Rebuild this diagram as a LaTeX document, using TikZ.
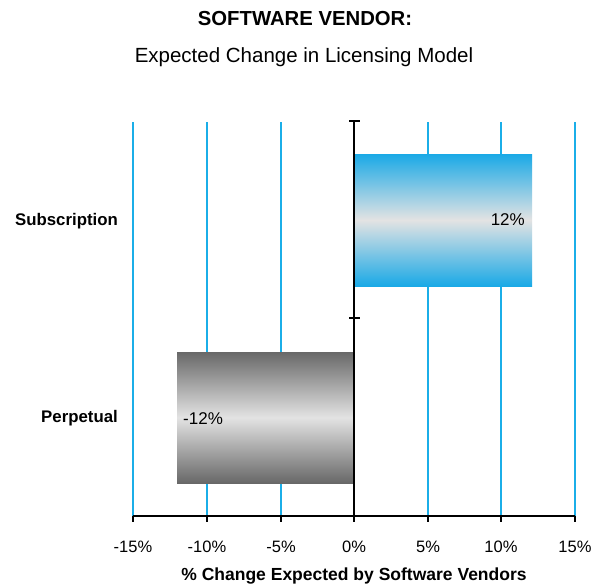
\documentclass[tikz,border=0pt]{standalone}
\usepackage{fontspec}
\setmainfont{Liberation Sans}
\definecolor{grid}{HTML}{1BAEE8}
\definecolor{barblue}{HTML}{1AA9E6}
\definecolor{bargray}{HTML}{686868}
\definecolor{barmid}{HTML}{E3E3E3}
\begin{document}
\begin{tikzpicture}[x=1pt,y=-1pt,
  gridline/.style={draw=grid,line width=1.8pt},
  axisline/.style={draw=black,line width=1.6pt},
  poshbar/.style={top color=barblue,bottom color=barblue,middle color=barmid,draw=none},
  neghbar/.style={top color=bargray,bottom color=bargray,middle color=barmid,draw=none},
  ticklabel/.style={font=\fontsize{16.5}{18}\selectfont,inner sep=0pt},
  catlabel/.style={font=\bfseries\fontsize{16.8}{18}\selectfont,inner sep=0pt,anchor=east},
  barlabel/.style={font=\fontsize{17}{18}\selectfont,inner sep=0pt}]
\useasboundingbox[fill=white] (0,0) rectangle (594,584);

% titles
\node[font=\bfseries\fontsize{20.3}{24}\selectfont,inner sep=0pt] (title) at (305,19) {SOFTWARE VENDOR:};
\node[font=\fontsize{20.5}{24}\selectfont,inner sep=0pt] (subtitle) at (304,57) {Expected Change in Licensing Model};

% vertical gridlines
\foreach \x in {133,207,281,428,501,575}
  \draw[gridline] (\x,122) -- (\x,516);

% bars
\fill[poshbar] (354,154) rectangle (532,286);
\fill[neghbar] (177,352) rectangle (354,483);

% axes
\draw[axisline] (133,516) -- (575,516);
\foreach \x in {133,207,281,354,428,501,575}
  \draw[axisline] (\x,516) -- (\x,522);
\draw[axisline] (354,121) -- (354,516);
\draw[axisline] (349,121) -- (360,121);
\draw[axisline] (349,318) -- (360,318);

% tick labels
\node[ticklabel] (tm15) at (133,547) {-15\%};
\node[ticklabel] (tm10) at (207,547) {-10\%};
\node[ticklabel] (tm5) at (281,547) {-5\%};
\node[ticklabel] (t0) at (354,547) {0\%};
\node[ticklabel] (t5) at (428,547) {5\%};
\node[ticklabel] (t10) at (501,547) {10\%};
\node[ticklabel] (t15) at (575,547) {15\%};

% axis title
\node[font=\bfseries\fontsize{17.5}{20}\selectfont,inner sep=0pt] (xtitle) at (354,576) {\% Change Expected by Software Vendors};

% category labels
\node[catlabel] (subscr) at (118,221) {Subscription};
\node[catlabel] (perp) at (118,418) {Perpetual};

% value labels
\node[barlabel,anchor=east] (v1) at (525,220) {12\%};
\node[barlabel,anchor=west] (v2) at (183,419) {-12\%};
\end{tikzpicture}
\end{document}
